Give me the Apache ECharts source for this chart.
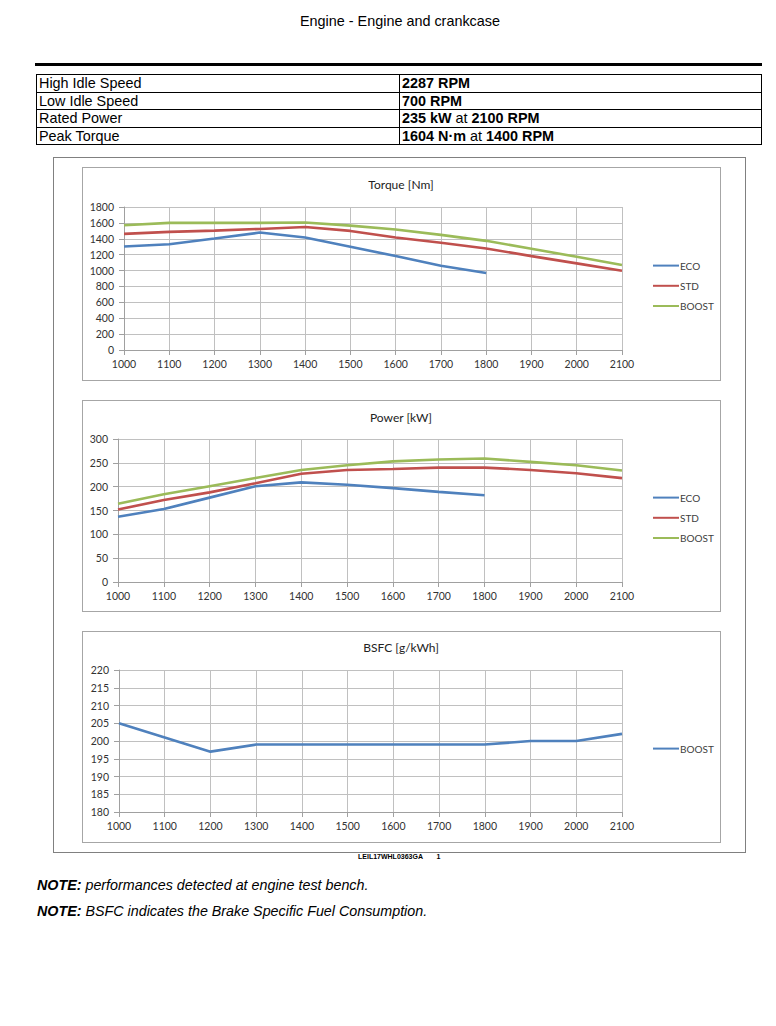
<!DOCTYPE html>
<html>
<head>
<meta charset="utf-8">
<script src="https://cdn.jsdelivr.net/npm/echarts@6/dist/echarts.min.js"></script>
<style>
  html, body { margin:0; padding:0; background:#fff; }
  body { width:776px; height:1026px; position:relative; overflow:hidden; font-family:"Liberation Sans", Arial, sans-serif; color:#000; }
  .abs { position:absolute; }
  #pageTitle { left:0; width:800px; top:12px; text-align:center; font-size:14.4px; line-height:18px; }
  #rule { left:35px; top:63px; width:727px; height:3px; background:#000; }
  table { position:absolute; left:36px; top:74px; width:726px; border-collapse:collapse; font-size:14.4px; }
  td { border:1px solid #000; height:16.5px; padding:0 0 0 2px; line-height:16px; white-space:nowrap; }
  td.c1 { width:360px; }
  .frame { border:1px solid #808080; box-sizing:border-box; }
  .box { border:1px solid #a6a6a6; box-sizing:border-box; }
  #chart { position:absolute; left:0; top:0; width:776px; height:1026px; z-index:2; }
  #code { left:358px; top:853px; font-size:7px; font-weight:bold; z-index:3; }
  .note { left:37px; font-size:14.3px; font-style:italic; z-index:3; }
</style>
</head>
<body>
<div id="pageTitle" class="abs">Engine - Engine and crankcase</div>
<div id="rule" class="abs"></div>
<table>
  <tr><td class="c1">High Idle Speed</td><td><b>2287 RPM</b></td></tr>
  <tr><td class="c1">Low Idle Speed</td><td><b>700 RPM</b></td></tr>
  <tr><td class="c1">Rated Power</td><td><b>235 kW</b> at <b>2100 RPM</b></td></tr>
  <tr><td class="c1">Peak Torque</td><td><b>1604 N·m</b> at <b>1400 RPM</b></td></tr>
</table>
<div class="abs frame" style="left:53px;top:157px;width:693px;height:696px;"></div>
<div class="abs box" style="left:82px;top:167px;width:639px;height:214px;"></div>
<div class="abs box" style="left:82px;top:400px;width:639px;height:212px;"></div>
<div class="abs box" style="left:82px;top:631px;width:639px;height:212px;"></div>
<div id="chart"></div>
<div id="code" class="abs">LEIL17WHL0363GA&nbsp;&nbsp;&nbsp;&nbsp;&nbsp;&nbsp;&nbsp;1</div>
<div class="abs note" style="top:877px;"><b>NOTE:</b> performances detected at engine test bench.</div>
<div class="abs note" style="top:903px;"><b>NOTE:</b> BSFC indicates the Brake Specific Fuel Consumption.</div>
<script>
// ---- data ----
var rpm = ['1000','1100','1200','1300','1400','1500','1600','1700','1800','1900','2000','2100'];
var torqueEco   = [1303, 1332, 1403, 1478, 1416, 1299, 1182, 1061, 969];
var torqueStd   = [1462, 1487, 1503, 1524, 1549, 1499, 1416, 1349, 1278, 1182, 1090, 998];
var torqueBoost = [1570, 1600, 1600, 1600, 1604, 1566, 1516, 1449, 1374, 1274, 1173, 1069];
var powerEco    = [137, 153, 177, 201, 209, 204, 197, 189, 182];
var powerStd    = [152, 172, 188, 207, 227, 235, 237, 240, 240, 235, 228, 218];
var powerBoost  = [164, 184, 201, 218, 235, 245, 253, 257, 259, 252, 245, 234];
var bsfcBoost   = [205, 201, 197, 199, 199, 199, 199, 199, 199, 200, 200, 202];
var modeNames   = ['ECO', 'STD', 'BOOST'];
var chartTitles = ['Torque [Nm]', 'Power [kW]', 'BSFC [g/kWh]'];

var COL = { ECO:'#4F81BD', STD:'#C0504D', BOOST:'#9BBB59' };
var FONT = 'Lato, "Noto Sans", sans-serif';
var gridColor = '#c0c0c0';
var axisColor = '#a0a0a0';

function xAxis(gi) {
  return {
    type:'category', gridIndex:gi, data:rpm, boundaryGap:false,
    axisLine:{ lineStyle:{ color:axisColor } },
    axisTick:{ show:true, length:5, alignWithLabel:true, lineStyle:{ color:axisColor } },
    axisLabel:{ color:'#333', fontFamily:FONT, fontSize:10.5, margin:8, interval:0 },
    splitLine:{ show:true, lineStyle:{ color:gridColor } }
  };
}
function yAxis(gi, min, max, interval) {
  return {
    type:'value', gridIndex:gi, min:min, max:max, interval:interval,
    axisLine:{ show:true, lineStyle:{ color:axisColor } },
    axisTick:{ show:true, length:5, lineStyle:{ color:axisColor } },
    axisLabel:{ color:'#333', fontFamily:FONT, fontSize:10.5, margin:10, formatter:function (v) { return String(v); } },
    splitLine:{ show:true, lineStyle:{ color:gridColor } }
  };
}
function line(name, gi, data, color) {
  return {
    type:'line', name:name, xAxisIndex:gi, yAxisIndex:gi, data:data,
    symbol:'none', showSymbol:false, smooth:false, lineStyle:{ width:2.6, color:color }, itemStyle:{ color:color },
    animation:false
  };
}
function legend(top, items) {
  return {
    orient:'vertical', left:652, top:top, padding:0, itemWidth:26, itemHeight:14, itemGap:9,
    selectedMode:false, data:items,
    itemStyle:{ opacity:0, borderWidth:0 },
    textStyle:{ color:'#404040', fontFamily:FONT, fontSize:10, padding:[0,0,0,-4] }
  };
}

var chart = echarts.init(document.getElementById('chart'), null, { renderer:'svg' });
chart.setOption({
  backgroundColor:'transparent',
  animation:false,
  grid:[
    { left:124, right:154, top:207, height:143 },
    { left:118, right:154, top:439, height:143 },
    { left:119, right:154, top:670, height:142 }
  ],
  xAxis:[ xAxis(0), xAxis(1), xAxis(2) ],
  yAxis:[ yAxis(0, 0, 1800, 200), yAxis(1, 0, 300, 50), yAxis(2, 180, 220, 5) ],
  legend:[
    legend(260, modeNames),
    legend(492, modeNames),
    legend(743, [{ name:'BOOST', itemStyle:{ color:COL.ECO, opacity:0 }, lineStyle:{ color:COL.ECO } }])
  ],
  graphic:[
    { type:'text', x:401, y:184, style:{ text:chartTitles[0], textAlign:'center', textVerticalAlign:'middle', font:'12px ' + FONT, fill:'#222' } },
    { type:'text', x:401, y:417, style:{ text:chartTitles[1], textAlign:'center', textVerticalAlign:'middle', font:'12px ' + FONT, fill:'#222' } },
    { type:'text', x:401, y:647, style:{ text:chartTitles[2], textAlign:'center', textVerticalAlign:'middle', font:'12px ' + FONT, fill:'#222' } }
  ],
  series:[
    line('ECO', 0, torqueEco, COL.ECO),
    line('STD', 0, torqueStd, COL.STD),
    line('BOOST', 0, torqueBoost, COL.BOOST),
    line('ECO', 1, powerEco, COL.ECO),
    line('STD', 1, powerStd, COL.STD),
    line('BOOST', 1, powerBoost, COL.BOOST),
    line('BOOST', 2, bsfcBoost, COL.ECO)
  ]
});
</script>
</body>
</html>
